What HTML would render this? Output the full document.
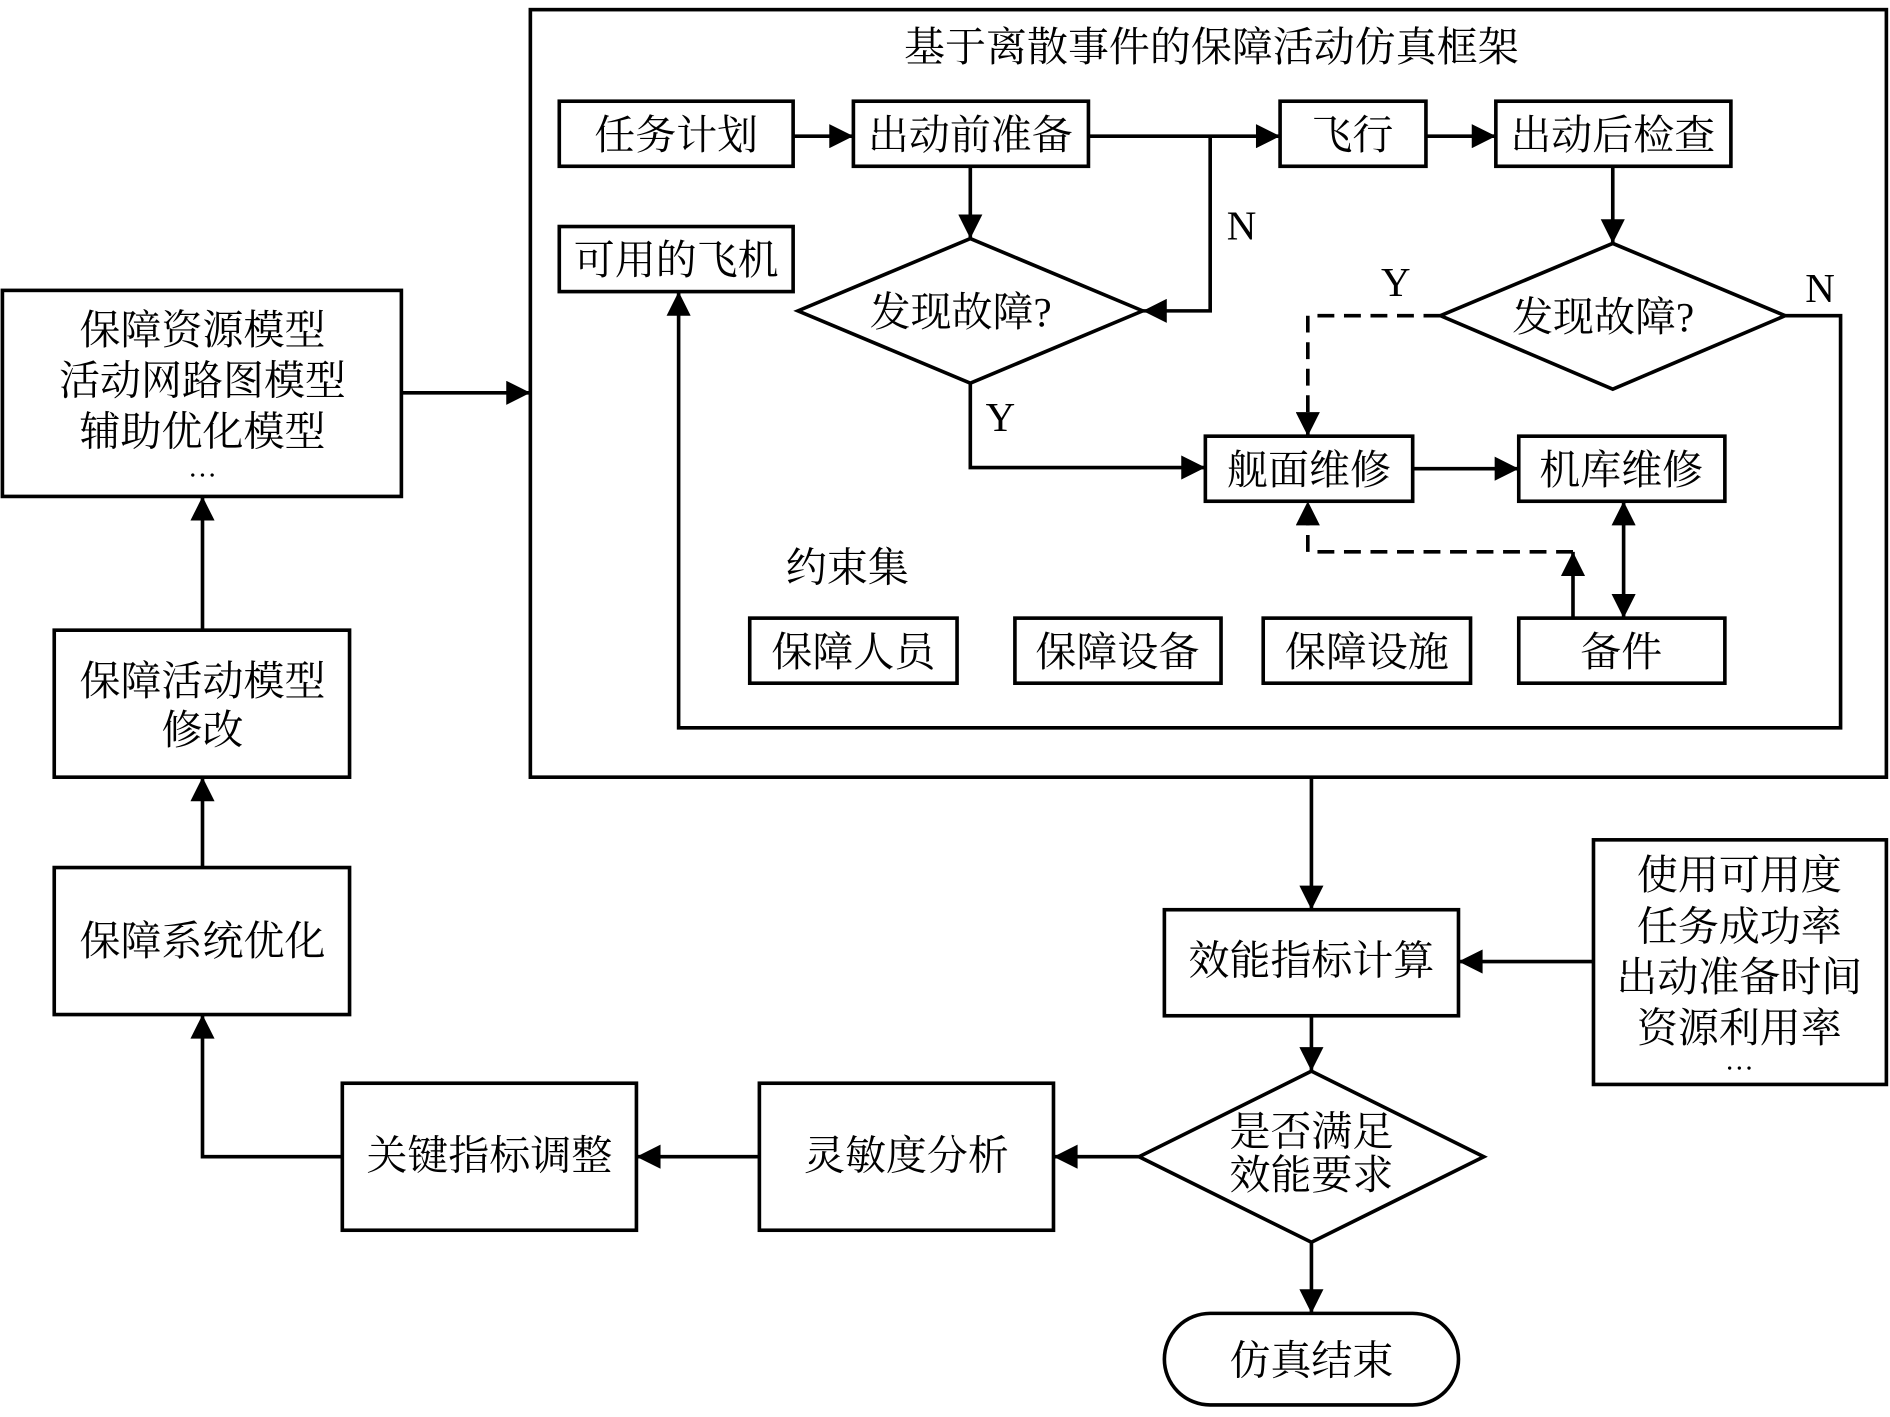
<!DOCTYPE html>
<html><head><meta charset="utf-8"><style>
html,body{margin:0;padding:0;background:#fff;}
svg{display:block;}
text{font-family:"Liberation Serif","Noto Serif CJK SC",serif;font-size:34px;fill:#000;text-anchor:middle;dominant-baseline:central;}
</style></head><body>
<svg width="1890" height="1417" viewBox="0 0 1568 1176" preserveAspectRatio="none" xmlns="http://www.w3.org/2000/svg">
<defs>
<marker id="b" viewBox="0 0 10 10" refX="10" refY="5" markerWidth="24" markerHeight="20" markerUnits="userSpaceOnUse" orient="auto-start-reverse"><path d="M0,0 L10,5 L0,10z" fill="#000"/></marker>
</defs>
<g fill="none" stroke="#000" stroke-width="3">
<rect x="440" y="8" width="1125" height="637"/>
<rect x="464" y="84" width="194" height="54"/>
<rect x="708" y="84" width="195" height="54"/>
<rect x="1062" y="84" width="121" height="54"/>
<rect x="1241" y="84" width="195" height="54"/>
<rect x="464" y="188" width="194" height="54"/>
<polygon points="662,258 805,198 948,258 805,318"/>
<polygon points="1195,262 1338,202 1481,262 1338,323"/>
<rect x="1000" y="362" width="172" height="54"/>
<rect x="1260" y="362" width="171" height="54"/>
<rect x="622" y="513" width="172" height="54"/>
<rect x="842" y="513" width="171" height="54"/>
<rect x="1048" y="513" width="172" height="54"/>
<rect x="1260" y="513" width="171" height="54"/>
<rect x="2" y="241" width="331" height="171"/>
<rect x="45" y="523" width="245" height="122"/>
<rect x="45" y="720" width="245" height="122"/>
<rect x="284" y="899" width="244" height="122"/>
<rect x="630" y="899" width="244" height="122"/>
<polygon points="945,960 1088,889 1231,960 1088,1031"/>
<rect x="966" y="755" width="244" height="88"/>
<rect x="1322" y="697" width="243" height="203"/>
<rect x="966" y="1090" width="244" height="76" rx="38"/>
<path d="M658,113 H708" marker-end="url(#b)"/>
<path d="M903,113 H1062" marker-end="url(#b)"/>
<path d="M1183,113 H1241" marker-end="url(#b)"/>
<path d="M805,138 V198" marker-end="url(#b)"/>
<path d="M1004,113 V258 H948" marker-end="url(#b)"/>
<path d="M1338,138 V202" marker-end="url(#b)"/>
<path d="M805,318 V388 H1000" marker-end="url(#b)"/>
<path d="M1172,389 H1260" marker-end="url(#b)"/>
<path d="M1481,262 H1527 V604 H563 V242" marker-end="url(#b)"/>
<path d="M1195,262 H1085 V362" stroke-dasharray="14,8" marker-end="url(#b)"/>
<path d="M1347,416 V513" marker-start="url(#b)" marker-end="url(#b)"/>
<path d="M1305,513 V458" marker-end="url(#b)"/>
<path d="M1305,458 H1085 V416" stroke-dasharray="14,8" marker-end="url(#b)"/>
<path d="M333,326 H440" marker-end="url(#b)"/>
<path d="M168,523 V412" marker-end="url(#b)"/>
<path d="M168,720 V645" marker-end="url(#b)"/>
<path d="M284,960 H168 V842" marker-end="url(#b)"/>
<path d="M630,960 H528" marker-end="url(#b)"/>
<path d="M945,960 H874" marker-end="url(#b)"/>
<path d="M1088,645 V755" marker-end="url(#b)"/>
<path d="M1088,843 V889" marker-end="url(#b)"/>
<path d="M1322,798 H1210" marker-end="url(#b)"/>
<path d="M1088,1031 V1090" marker-end="url(#b)"/>
</g>
<text x="1005" y="39">基于离散事件的保障活动仿真框架</text>
<text x="561" y="112">任务计划</text>
<text x="805" y="112">出动前准备</text>
<text x="1122" y="112">飞行</text>
<text x="1338" y="112">出动后检查</text>
<text x="561" y="216">可用的飞机</text>
<text x="797" y="259">发现故障?</text>
<text x="1330" y="263">发现故障?</text>
<text x="1030" y="187">N</text>
<text x="1510" y="239">N</text>
<text x="1158" y="234">Y</text>
<text x="830" y="346">Y</text>
<text x="1086" y="390">舰面维修</text>
<text x="1345" y="390">机库维修</text>
<text x="703" y="471">约束集</text>
<text x="708" y="541">保障人员</text>
<text x="927" y="541">保障设备</text>
<text x="1134" y="541">保障设施</text>
<text x="1345" y="541">备件</text>
<text x="168" y="274">保障资源模型</text>
<text x="168" y="316">活动网路图模型</text>
<text x="168" y="358">辅助优化模型</text>
<text x="168" y="388" style="font-size:24px">…</text>
<text x="168" y="565">保障活动模型</text>
<text x="168" y="606">修改</text>
<text x="168" y="781">保障系统优化</text>
<text x="406" y="959">关键指标调整</text>
<text x="752" y="959">灵敏度分析</text>
<text x="1088" y="939">是否满足</text>
<text x="1088" y="975">效能要求</text>
<text x="1088" y="797">效能指标计算</text>
<text x="1443" y="726">使用可用度</text>
<text x="1443" y="769">任务成功率</text>
<text x="1443" y="811">出动准备时间</text>
<text x="1443" y="853">资源利用率</text>
<text x="1443" y="880" style="font-size:24px">…</text>
<text x="1088" y="1129">仿真结束</text>
</svg>
</body></html>
